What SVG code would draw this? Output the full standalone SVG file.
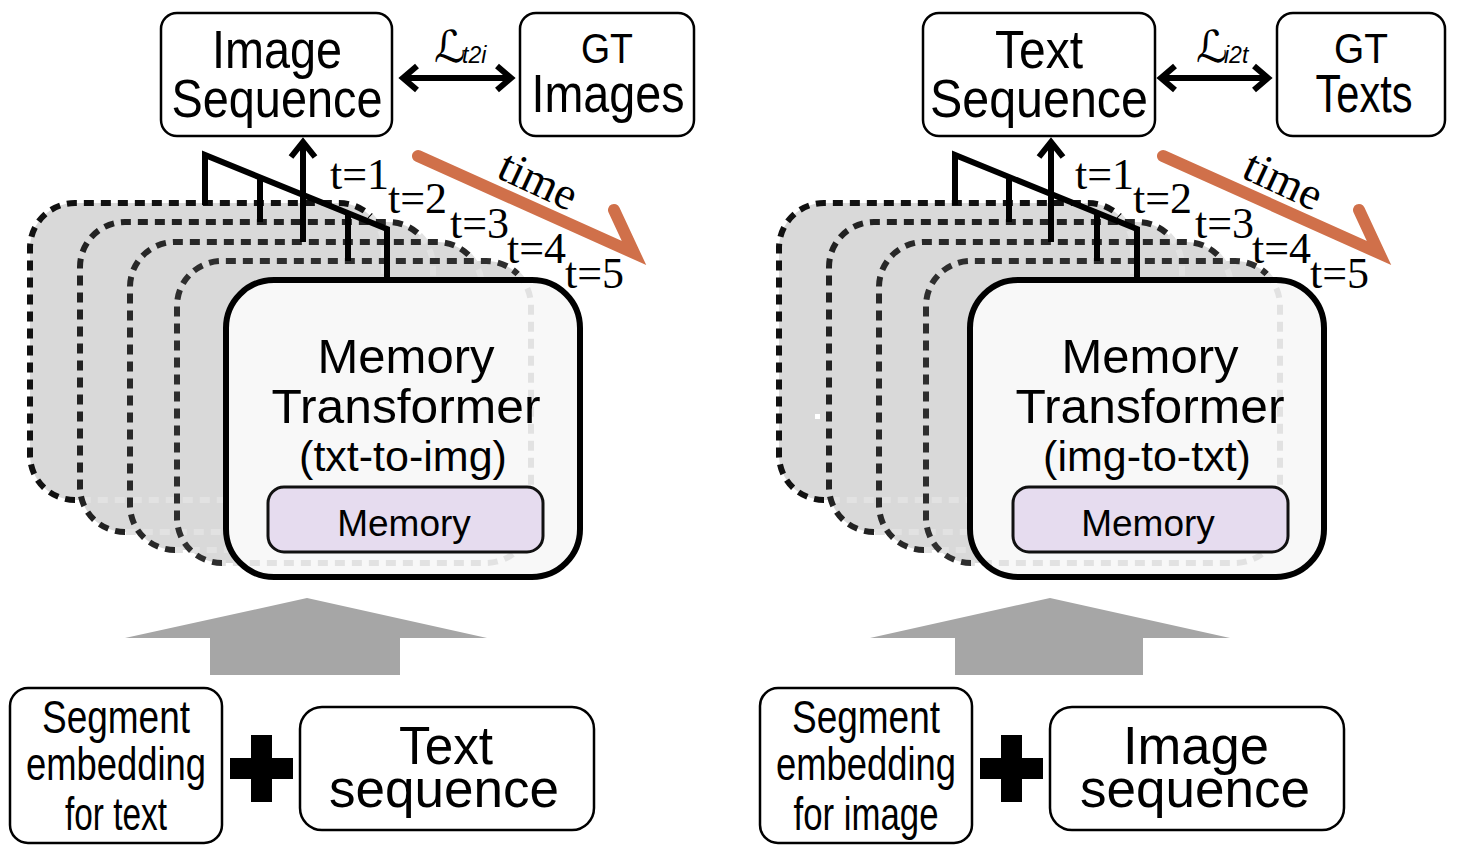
<svg xmlns="http://www.w3.org/2000/svg" xmlns:xlink="http://www.w3.org/1999/xlink" width="1462" height="856" viewBox="0 0 1462 856">
<style>
.box{fill:#fff;stroke:#000;stroke-width:2.5}
.sans{font-family:"Liberation Sans",Arial,Helvetica,sans-serif;fill:#000}
.serif{font-family:"Liberation Serif","Times New Roman",serif;fill:#000}
.fillg{fill:#d9d9d9;stroke:none}
.dk{fill:none;stroke-width:6;stroke-dasharray:10 7}
.lt{fill:none;stroke:#e2e2e2;stroke-width:6;stroke-dasharray:10 7}
.front{fill:none;stroke:#000;stroke-width:6}
.mem{fill:#e6dcef;stroke:#111;stroke-width:3}
.ln{fill:none;stroke:#000;stroke-width:6;stroke-linejoin:miter;stroke-linecap:butt}
.time{fill:none;stroke:#d0704a;stroke-width:12;stroke-linecap:round;stroke-linejoin:miter}
.gray{fill:#a6a6a6}
</style>
<defs>
<g id="stack">
<rect class="fillg" x="30" y="203" width="354" height="297" rx="45"/>
<rect class="fillg" x="80" y="222" width="353" height="310" rx="45"/>
<rect class="fillg" x="130" y="242" width="352" height="308" rx="45"/>
<rect class="fillg" x="177" y="261" width="354" height="302" rx="45"/>
<path class="dk" stroke="#111" d="M75,500 A45,45 0 0 1 30,455 L30,248 A45,45 0 0 1 75,203 L339,203 A45,45 0 0 1 370.8,216.2"/>
<path class="lt" d="M370.8,216.2 A45,45 0 0 1 384,248 L384,455 A45,45 0 0 1 339,500 L75,500"/>
<path class="dk" stroke="#222" d="M125,532 A45,45 0 0 1 80,487 L80,267 A45,45 0 0 1 125,222 L388,222 A45,45 0 0 1 419.8,235.2"/>
<path class="lt" d="M419.8,235.2 A45,45 0 0 1 433,267 L433,487 A45,45 0 0 1 388,532 L125,532"/>
<path class="dk" stroke="#282828" d="M175,550 A45,45 0 0 1 130,505 L130,287 A45,45 0 0 1 175,242 L437,242 A45,45 0 0 1 468.8,255.2"/>
<path class="lt" d="M468.8,255.2 A45,45 0 0 1 482,287 L482,505 A45,45 0 0 1 437,550 L175,550"/>
</g>
<g id="stack4">
<path class="dk" stroke="#2e2e2e" d="M222,563 A45,45 0 0 1 177,518 L177,306 A45,45 0 0 1 222,261 L486,261 A45,45 0 0 1 517.8,274.2"/>
<path class="lt" d="M517.8,274.2 A45,45 0 0 1 531,306 L531,518 A45,45 0 0 1 486,563 L222,563"/>
</g>
</defs>

<!-- LEFT PANEL -->
<g id="stack-left">
<use xlink:href="#stack"/>
</g>
<g id="mt-left">
<rect x="226" y="280" width="354" height="297" rx="48" fill="#f8f8f8"/>
<use xlink:href="#stack4"/>
<rect class="front" x="226" y="280" width="354" height="297" rx="48"/>
<text class="sans" x="406" y="373" font-size="49" text-anchor="middle">Memory</text>
<text class="sans" x="406" y="423" font-size="49" text-anchor="middle" textLength="269" lengthAdjust="spacingAndGlyphs">Transformer</text>
<text class="sans" x="403" y="471" font-size="43" text-anchor="middle">(txt-to-img)</text>
</g>
<g id="memory-left">
<rect class="mem" x="268" y="487" width="275" height="65" rx="16"/>
<text class="sans" x="404" y="536" font-size="37" text-anchor="middle">Memory</text>
</g>
<g id="imgseq-out">
<rect class="box" x="161" y="13" width="231" height="123" rx="16"/>
<text class="sans" x="277" y="68" font-size="53" text-anchor="middle" textLength="130" lengthAdjust="spacingAndGlyphs">Image</text>
<text class="sans" x="277" y="117" font-size="53" text-anchor="middle" textLength="211" lengthAdjust="spacingAndGlyphs">Sequence</text>
</g>
<g id="gt-images">
<rect class="box" x="520" y="13" width="174" height="123" rx="16"/>
<text class="sans" x="607" y="63" font-size="43" text-anchor="middle" textLength="52" lengthAdjust="spacingAndGlyphs">GT</text>
<text class="sans" x="608" y="112" font-size="54" text-anchor="middle" textLength="153" lengthAdjust="spacingAndGlyphs">Images</text>
</g>
<g id="seg-text">
<rect class="box" x="10" y="688" width="212" height="155" rx="18"/>
<text class="sans" x="116" y="733" font-size="47" text-anchor="middle" textLength="148" lengthAdjust="spacingAndGlyphs">Segment</text>
<text class="sans" x="116" y="780" font-size="47" text-anchor="middle" textLength="180" lengthAdjust="spacingAndGlyphs">embedding</text>
<text class="sans" x="116" y="830" font-size="47" text-anchor="middle" textLength="102" lengthAdjust="spacingAndGlyphs">for text</text>
</g>
<g id="textseq-in">
<rect class="box" x="300" y="707" width="294" height="123" rx="22"/>
<text class="sans" x="446" y="764" font-size="53" text-anchor="middle" textLength="94" lengthAdjust="spacingAndGlyphs">Text</text>
<text class="sans" x="444" y="807" font-size="53" text-anchor="middle" textLength="230" lengthAdjust="spacingAndGlyphs">sequence</text>
</g>
<g id="plus-left">
<rect x="230" y="758" width="63" height="21" fill="#000"/>
<rect x="251" y="735" width="21" height="67" fill="#000"/>
</g>
<g id="labels-left">
<text class="serif" x="330" y="189" font-size="44">t=1</text>
<text class="serif" x="388" y="213" font-size="44">t=2</text>
<text class="serif" x="450" y="238" font-size="44">t=3</text>
<text class="serif" x="507" y="263" font-size="44">t=4</text>
<text class="serif" x="565" y="288" font-size="44">t=5</text>
<text class="serif" font-size="46" text-anchor="middle" transform="translate(532,194) rotate(25)">time</text>
<text font-family="'DejaVu Sans',sans-serif" x="434" y="62" font-size="44" font-style="italic">ℒ</text>
<text class="sans" x="462" y="63" font-size="23" font-style="italic">t2i</text>
</g>

<!-- RIGHT PANEL -->
<g id="stack-right">
<use xlink:href="#stack" x="749"/>
<rect x="815" y="414" width="5" height="5" fill="#fff"/>
</g>
<g id="mt-right">
<rect x="970" y="280" width="354" height="297" rx="48" fill="#f8f8f8"/>
<use xlink:href="#stack4" x="749"/>
<rect class="front" x="970" y="280" width="354" height="297" rx="48" stroke="#222"/>
<text class="sans" x="1150" y="373" font-size="49" text-anchor="middle">Memory</text>
<text class="sans" x="1150" y="423" font-size="49" text-anchor="middle" textLength="269" lengthAdjust="spacingAndGlyphs">Transformer</text>
<text class="sans" x="1147" y="471" font-size="43" text-anchor="middle">(img-to-txt)</text>
</g>
<g id="memory-right">
<rect class="mem" x="1013" y="487" width="275" height="65" rx="16"/>
<text class="sans" x="1148" y="536" font-size="37" text-anchor="middle">Memory</text>
</g>
<g id="txtseq-out">
<rect class="box" x="923" y="13" width="232" height="123" rx="16"/>
<text class="sans" x="1039" y="68" font-size="53" text-anchor="middle" textLength="88" lengthAdjust="spacingAndGlyphs">Text</text>
<text class="sans" x="1039" y="117" font-size="53" text-anchor="middle" textLength="218" lengthAdjust="spacingAndGlyphs">Sequence</text>
</g>
<g id="gt-texts">
<rect class="box" x="1277" y="13" width="168" height="123" rx="16"/>
<text class="sans" x="1361" y="63" font-size="43" text-anchor="middle" textLength="54" lengthAdjust="spacingAndGlyphs">GT</text>
<text class="sans" x="1364" y="112" font-size="54" text-anchor="middle" textLength="97" lengthAdjust="spacingAndGlyphs">Texts</text>
</g>
<g id="seg-image">
<rect class="box" x="760" y="688" width="212" height="155" rx="18"/>
<text class="sans" x="866" y="733" font-size="47" text-anchor="middle" textLength="148" lengthAdjust="spacingAndGlyphs">Segment</text>
<text class="sans" x="866" y="780" font-size="47" text-anchor="middle" textLength="180" lengthAdjust="spacingAndGlyphs">embedding</text>
<text class="sans" x="866" y="830" font-size="47" text-anchor="middle" textLength="145" lengthAdjust="spacingAndGlyphs">for image</text>
</g>
<g id="imgseq-in">
<rect class="box" x="1050" y="707" width="294" height="123" rx="22"/>
<text class="sans" x="1196" y="764" font-size="53" text-anchor="middle" textLength="146" lengthAdjust="spacingAndGlyphs">Image</text>
<text class="sans" x="1195" y="807" font-size="53" text-anchor="middle" textLength="230" lengthAdjust="spacingAndGlyphs">sequence</text>
</g>
<g id="plus-right">
<rect x="980" y="758" width="63" height="21" fill="#000"/>
<rect x="1001" y="735" width="21" height="67" fill="#000"/>
</g>
<g id="labels-right">
<text class="serif" x="1075" y="189" font-size="44">t=1</text>
<text class="serif" x="1133" y="213" font-size="44">t=2</text>
<text class="serif" x="1195" y="238" font-size="44">t=3</text>
<text class="serif" x="1252" y="263" font-size="44">t=4</text>
<text class="serif" x="1310" y="288" font-size="44">t=5</text>
<text class="serif" font-size="46" text-anchor="middle" transform="translate(1277,194) rotate(25)">time</text>
<text font-family="'DejaVu Sans',sans-serif" x="1196" y="62" font-size="44" font-style="italic">ℒ</text>
<text class="sans" x="1224" y="63" font-size="23" font-style="italic">i2t</text>
</g>

<!-- CONNECTORS -->
<g id="connectors">
<path class="ln" d="M205,205 V155 L387,229 V280"/>
<path class="ln" d="M260,177 V222"/>
<path class="ln" d="M348,213 V261"/>
<path class="ln" d="M303,242 V142"/>
<path class="ln" d="M291,157 L303,142 L315,157"/>
<path class="ln" d="M403,78 H511"/>
<path class="ln" d="M417,66 L403,78 L417,90"/>
<path class="ln" d="M497,66 L511,78 L497,90"/>
<path class="time" d="M418,156 L634,253 L614,210"/>
<polygon class="gray" points="125,638 307,598 487,638 400,638 400,675 210,675 210,638"/>

<path class="ln" d="M955,205 V155 L1137,229 V280"/>
<path class="ln" d="M1009,177 V222"/>
<path class="ln" d="M1097,213 V261"/>
<path class="ln" d="M1051,242 V142"/>
<path class="ln" d="M1039,157 L1051,142 L1063,157"/>
<path class="ln" d="M1161,78 H1268"/>
<path class="ln" d="M1175,66 L1161,78 L1175,90"/>
<path class="ln" d="M1254,66 L1268,78 L1254,90"/>
<path class="time" d="M1163,156 L1379,253 L1359,210"/>
<polygon class="gray" points="870,638 1050,598 1230,638 1143,638 1143,675 955,675 955,638"/>
</g>
</svg>
